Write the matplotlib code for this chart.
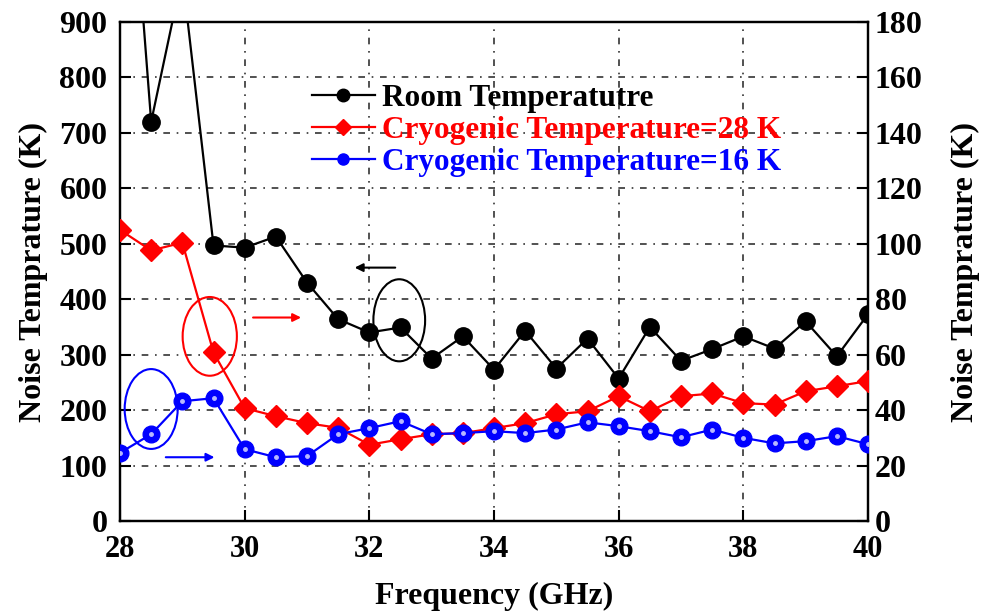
import matplotlib
matplotlib.use("Agg")
import matplotlib.pyplot as plt
from matplotlib.patches import Ellipse
from matplotlib.lines import Line2D

# frequencies (GHz)
freq = [28, 28.5, 29, 29.5, 30, 30.5, 31, 31.5, 32, 32.5, 33, 33.5, 34,
        34.5, 35, 35.5, 36, 36.5, 37, 37.5, 38, 38.5, 39, 39.5, 40]
# room temperature, left axis (K)
room = [1450, 720, 985, 497, 493, 513, 430, 364, 340, 349, 293, 333, 273,
        343, 275, 329, 257, 350, 289, 310, 333, 311, 360, 297, 373]
# cryogenic 28 K, right axis (K)
cryo28 = [105, 97.6, 100.4, 60.8, 40.7, 37.8, 35.3, 33.6, 27.5, 29.5, 31.3, 31.7, 33.5,
          35.3, 38.5, 39.6, 45, 39.6, 45, 46, 42.5, 42, 46.8, 48.6, 50.5]
# cryogenic 16 K, right axis (K)
cryo16 = [24.6, 31.3, 43.2, 44.3, 25.9, 23, 23.4, 31.3, 33.5, 36, 31.3, 31.7, 32.4,
          31.7, 33, 35.6, 34.2, 32.4, 30.2, 33, 30, 28, 28.8, 30.6, 27.7]

labels = ["Room Temperatutre", "Cryogenic Temperature=28 K", "Cryogenic Temperature=16 K"]

plt.rcParams["font.family"] = ["Liberation Serif", "DejaVu Serif"]
plt.rcParams["font.weight"] = "bold"

fig = plt.figure(figsize=(9.9, 6.14), dpi=100)
ax = fig.add_axes([120 / 990, 1 - 521 / 614, 748 / 990, 499 / 614])
ax2 = ax.twinx()

grid_style = dict(color="0.2", linewidth=1.2, linestyle=(0, (4, 4, 1, 4)))
for v in range(100, 900, 100):
    ax.axhline(v, zorder=0, **grid_style)
for f in range(30, 40, 2):
    ax.axvline(f, zorder=0, **grid_style)

ax.plot(freq, room, color="black", lw=1.6, marker="o", ms=12.5, zorder=3)
ax2.plot(freq, cryo28, color="red", lw=1.6, marker="D", ms=11, zorder=3)
ax2.plot(freq, cryo16, color="blue", lw=1.6, marker="o", ms=12, zorder=3)
ax2.plot(freq, cryo16, ls="none", marker="o", ms=2.5, color="#b8b8ff", zorder=4)

ax.set_xlim(28, 40)
ax.set_ylim(0, 900)
ax2.set_ylim(0, 180)
ax.set_xticks(range(28, 41, 2))
ax.set_yticks(range(0, 901, 100))
ax2.set_yticks(range(0, 181, 20))

for s in ax.spines.values():
    s.set_linewidth(1.6)
for s in ax2.spines.values():
    s.set_linewidth(1.6)

ax.tick_params(axis="y", direction="in", length=8, width=1.5, labelsize=23, pad=9, left=True, right=False)
ax.tick_params(axis="x", direction="in", length=8, width=1.5, labelsize=22, pad=10)
ax2.tick_params(axis="y", direction="in", length=8, width=1.5, labelsize=23, pad=5)

ax.set_xlabel("Frequency (GHz)", fontsize=23, fontweight="bold", labelpad=13)
ax.set_ylabel("Noise Temprature (K)", fontsize=23, fontweight="bold", labelpad=8)
ax2.set_ylabel("Noise Temprature (K)", fontsize=23, fontweight="bold", labelpad=20)

# ellipses and arrows marking which axis each curve uses
ax.add_patch(Ellipse((32.48, 362), 0.83, 148, fill=False, ec="black", lw=1.5, zorder=5))
ax.add_patch(Ellipse((29.44, 333), 0.87, 142, fill=False, ec="red", lw=1.5, zorder=5))
ax.add_patch(Ellipse((28.5, 202), 0.85, 144, fill=False, ec="blue", lw=1.5, zorder=5))
ax.annotate("", xy=(31.72, 457), xytext=(32.46, 457),
            arrowprops=dict(arrowstyle="-|>", color="black", lw=1.5, mutation_scale=12))
ax.annotate("", xy=(30.95, 367), xytext=(30.09, 367),
            arrowprops=dict(arrowstyle="-|>", color="red", lw=1.5, mutation_scale=12))
ax.annotate("", xy=(29.56, 115), xytext=(28.69, 115),
            arrowprops=dict(arrowstyle="-|>", color="blue", lw=1.5, mutation_scale=12))

handles = [
    Line2D([], [], color="black", lw=1.6, marker="o", ms=9),
    Line2D([], [], color="red", lw=1.6, marker="D", ms=8),
    Line2D([], [], color="blue", lw=1.6, marker="o", ms=8),
]
leg = ax2.legend(handles, labels, loc="upper left", bbox_to_anchor=(312 / 990, 1 - 84 / 614),
                 bbox_transform=fig.transFigure, frameon=False, fontsize=22.5,
                 handlelength=2.0, handletextpad=0.25, labelspacing=0.1, borderpad=0,
                 borderaxespad=0)
for t, c in zip(leg.get_texts(), ["black", "red", "blue"]):
    t.set_color(c)
    t.set_fontweight("bold")

fig.savefig("out.png", dpi=100)
